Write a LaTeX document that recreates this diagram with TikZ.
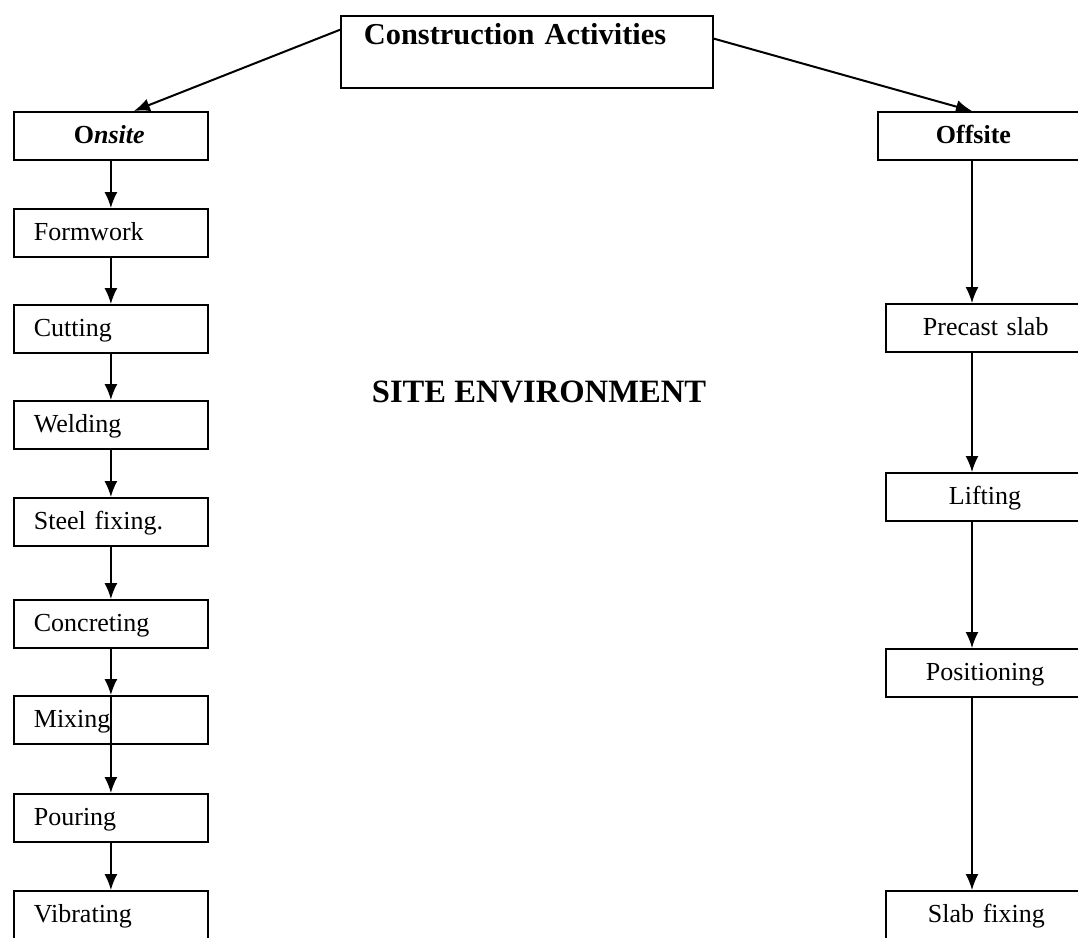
\documentclass[tikz,border=0pt]{standalone}
\usepackage{fontspec}
\setmainfont{Liberation Serif}
\usetikzlibrary{arrows.meta,calc}
\begin{document}
\begin{tikzpicture}[x=0.5pt,y=-0.5pt,
  box/.style={draw, line width=0.9pt, rectangle, anchor=north west,
    inner ysep=0pt, text height=16pt, text depth=8pt, align=left,
    font=\fontsize{13}{15}\selectfont},
  lbox/.style={box, inner xsep=10pt, text width=77pt},
  rbox/.style={box, inner xsep=0pt, text width=120pt},
  arr/.style={line width=0.75pt, -{Latex[length=8pt,width=6.5pt]}},
  toparr/.style={line width=1pt, -{Latex[length=8pt,width=6.5pt]}},
]
\useasboundingbox (0,0) rectangle (1078,938);
\clip (0,0) rectangle (1078,938);

% root
\node[draw, line width=0.9pt, anchor=north west, inner sep=0pt,
  text width=186pt, align=left, text height=14.5pt, text depth=21.5pt,
  font=\bfseries\fontsize{15.2}{18}\selectfont]
  (top) at (340,15) {\hspace*{11.5pt}Construction Activities};

% onsite column
\node[lbox] (onsite) at (13,111) {\hspace*{20pt}\textbf{O\textit{nsite}}};
\node[lbox] (formwork) at (13,208) {Formwork};
\node[lbox] (cutting) at (13,304) {Cutting};
\node[lbox] (welding) at (13,400) {Welding};
\node[lbox] (steel) at (13,497) {Steel fixing.};
\node[lbox] (concreting) at (13,599) {Concreting};
\node[lbox] (mixing) at (13,695) {Mixing};
\node[lbox] (pouring) at (13,793) {Pouring};
\node[lbox] (vibrating) at (13,890) {Vibrating};

% offsite column
\node[rbox] (offsite) at (877,111) {\hspace*{29pt}\textbf{Offsite}};
\node[rbox] (precast) at (885,303) {\hspace*{18.5pt}Precast slab};
\node[rbox] (lifting) at (885,472) {\hspace*{31.5pt}Lifting};
\node[rbox] (positioning) at (885,648) {\hspace*{20pt}Positioning};
\node[rbox] (slabfix) at (885,890) {\hspace*{21pt}Slab fixing};

% centre caption
\node[font=\bfseries\fontsize{16.3}{19}\selectfont] (site) at (539,392) {SITE ENVIRONMENT};

% branches from the root
\draw[toparr] ($(top.north west)!0.2!(top.south west)$) -- ($(onsite.north)+(23,0)$);
\coordinate (rx) at (972,0);
\draw[toparr] ($(top.north east)!0.32!(top.south east)$) -- (offsite.north -| rx);

% onsite sequence
\draw[arr] (onsite.south) -- (formwork.north);
\draw[arr] (formwork.south) -- (cutting.north);
\draw[arr] (cutting.south) -- (welding.north);
\draw[arr] (welding.south) -- (steel.north);
\draw[arr] (steel.south) -- (concreting.north);
\draw[arr] (concreting.south) -- (mixing.north);
\draw[line width=0.75pt] (mixing.north) -- (mixing.south);
\draw[arr] (mixing.south) -- (pouring.north);
\draw[arr] (pouring.south) -- (vibrating.north);

% offsite sequence
\draw[arr] (offsite.south -| rx) -- (precast.north -| rx);
\draw[arr] (precast.south -| rx) -- (lifting.north -| rx);
\draw[arr] (lifting.south -| rx) -- (positioning.north -| rx);
\draw[arr] (positioning.south -| rx) -- (slabfix.north -| rx);
\end{tikzpicture}
\end{document}
